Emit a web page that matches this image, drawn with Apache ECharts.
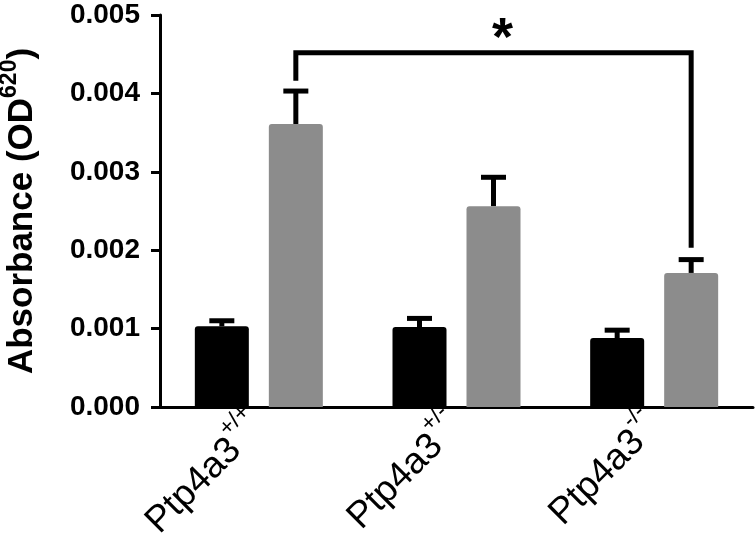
<!DOCTYPE html>
<html>
<head>
<meta charset="utf-8">
<script src="https://cdn.jsdelivr.net/npm/echarts@6/dist/echarts.min.js"></script>
<style>
  html, body { margin: 0; padding: 0; background: #fff; }
  #absorb { width: 755px; height: 552px; }
</style>
</head>
<body>
<div id="absorb"></div>
<script>
// genotypes shown as superscript after "Ptp4a3"
var genotypes = ['+/+', '+/-', '-/-'];
var yTicks = ['0.000', '0.001', '0.002', '0.003', '0.004', '0.005'];

// black bars (first condition) and grey bars (second condition), mean + SEM
var blackMean = [0.00103, 0.00102, 0.00088];
var blackErr  = [0.00007, 0.00011, 0.00010];
var greyMean  = [0.00361, 0.00256, 0.00171];
var greyErr   = [0.00042, 0.00037, 0.00017];

// significance bracket: from group 0 grey bar to group 2 grey bar
var bracketGroups = [0, 2];
var bracketTop = 0.00452;
var bracketLegEnds = [0.00416, 0.00203];

var FONT = "'Liberation Sans', Arial, sans-serif";
var BAR_W = 54;
var HALF_PAIR = 37; // distance from group centre to each bar centre

var chart = echarts.init(document.getElementById('absorb'));

function errRender(offset) {
  return function (params, api) {
    var base = api.coord([api.value(0), api.value(1)]);
    var top = api.coord([api.value(0), api.value(1) + api.value(2)]);
    var cx = base[0] + offset;
    return {
      type: 'group',
      children: [
        { type: 'line', shape: { x1: cx, y1: base[1], x2: cx, y2: top[1] }, style: { stroke: '#000', lineWidth: 5 } },
        { type: 'line', shape: { x1: cx - 12.5, y1: top[1], x2: cx + 12.5, y2: top[1] }, style: { stroke: '#000', lineWidth: 5 } }
      ]
    };
  };
}

function bracketRender(params, api) {
  var a = api.coord([bracketGroups[0], bracketTop]);
  var b = api.coord([bracketGroups[1], bracketTop]);
  var aEnd = api.coord([bracketGroups[0], bracketLegEnds[0]]);
  var bEnd = api.coord([bracketGroups[1], bracketLegEnds[1]]);
  var x1 = a[0] + HALF_PAIR, x2 = b[0] + HALF_PAIR;
  return {
    type: 'group',
    children: [
      { type: 'polyline', shape: { points: [[x1, aEnd[1]], [x1, a[1]], [x2, b[1]], [x2, bEnd[1]]] },
        style: { stroke: '#000', lineWidth: 5, fill: null, lineJoin: 'miter' } },
      { type: 'text', style: { text: '*', x: (x1 + x2) / 2 + 9, y: a[1] + 14, textAlign: 'center', textVerticalAlign: 'bottom',
        font: 'bold 54px ' + FONT, fill: '#000' } }
    ]
  };
}

chart.setOption({
  animation: false,
  grid: { left: 160, right: 2, top: 15, bottom: 145, outerBoundsMode: 'none' },
  xAxis: {
    type: 'category',
    data: genotypes,
    axisLine: { lineStyle: { color: '#000', width: 3 } },
    axisTick: { alignWithLabel: true, length: 9, lineStyle: { color: '#000', width: 3 } },
    axisLabel: {
      rotate: 45,
      margin: 14,
      formatter: function (v) { return '{n|Ptp4a3}{s|' + v + '}'; },
      rich: {
        n: { fontSize: 37, fontFamily: FONT, color: '#000', lineHeight: 58 },
        s: { fontSize: 23, fontFamily: FONT, color: '#000', lineHeight: 24, verticalAlign: 'top' }
      }
    }
  },
  yAxis: {
    type: 'value',
    min: 0,
    max: 0.005,
    interval: 0.001,
    name: '{a|Absorbance (OD}{s|620}{a|)}',
    nameLocation: 'middle',
    nameRotate: 90,
    nameGap: 114,
    nameTextStyle: {
      rich: {
        a: { fontSize: 35, fontWeight: 'bold', fontFamily: FONT, color: '#000', lineHeight: 48 },
        s: { fontSize: 23, fontWeight: 'bold', fontFamily: FONT, color: '#000', lineHeight: 24, verticalAlign: 'top' }
      }
    },
    splitLine: { show: false },
    axisLine: { show: true, lineStyle: { color: '#000', width: 3 } },
    axisTick: { show: true, length: 9, lineStyle: { color: '#000', width: 3 } },
    axisLabel: {
      margin: 20,
      fontSize: 28,
      fontWeight: 'bold',
      fontFamily: FONT,
      color: '#000',
      formatter: function (v, i) { return yTicks[i]; }
    }
  },
  series: [
    {
      type: 'bar', data: blackMean, barWidth: BAR_W, barGap: (2 * HALF_PAIR - BAR_W) / BAR_W * 100 + '%',
      itemStyle: { color: '#000', borderRadius: [3, 3, 0, 0] }
    },
    {
      type: 'bar', data: greyMean, barWidth: BAR_W,
      itemStyle: { color: '#8c8c8c', borderRadius: [3, 3, 0, 0] }
    },
    {
      type: 'custom', renderItem: errRender(-HALF_PAIR), clip: false, z: 3,
      data: blackMean.map(function (m, i) { return [i, m, blackErr[i]]; })
    },
    {
      type: 'custom', renderItem: errRender(HALF_PAIR), clip: false, z: 1,
      data: greyMean.map(function (m, i) { return [i, m, greyErr[i]]; })
    },
    {
      type: 'custom', renderItem: bracketRender, clip: false, z: 3,
      data: [[0, bracketTop]]
    }
  ]
});
</script>
</body>
</html>
